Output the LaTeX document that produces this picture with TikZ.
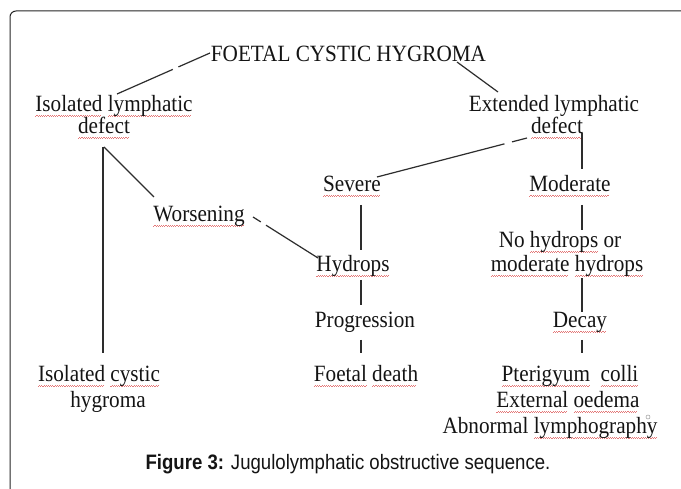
\documentclass[tikz,border=0pt]{standalone}
\usepackage{fontspec}
\setmainfont[FakeStretch=0.91]{Liberation Serif}
\newfontfamily\capfont[FakeStretch=0.89]{Liberation Sans}
\usetikzlibrary{calc}
\definecolor{wavered}{RGB}{228,120,120}
\definecolor{txt}{RGB}{20,20,20}
\definecolor{linec}{RGB}{45,45,45}
\newsavebox\sqbox
\newcommand\sq[1]{\sbox\sqbox{#1}\rlap{\textcolor{wavered}{\leaders\hbox{\rule[-4.4pt]{1.1pt}{0.7pt}\rule[-3.6pt]{1.1pt}{0.7pt}}\hskip\wd\sqbox}}\usebox\sqbox}
\tikzset{
  lbl/.style={anchor=base, inner sep=0pt, text=txt, font=\fontsize{23.3}{25}\selectfont},
  conn/.style={draw=linec, line width=1.2pt},
  frame/.style={draw=black!85, line width=1pt, rounded corners=6pt}
}
\begin{document}
\begin{tikzpicture}[x=1pt, y=-1pt]
\useasboundingbox (0,0) rectangle (681,489);
\clip (0,0) rectangle (681,489);
\fill[white] (0,0) rectangle (681,489);
\draw[frame] (10,500) -- (10,11) -- (700,11);

% nodes
\node[lbl] (foetal) at (348.5,62) {FOETAL CYSTIC HYGROMA};
\node[lbl] (isoA) at (114,112) {\sq{Isolated} \sq{lymphatic}};
\node[lbl] (isoB) at (104,134) {\sq{defect}};
\node[lbl] (extA) at (554,112) {Extended lymphatic};
\node[lbl] (extB) at (557,134) {\sq{defect}};
\node[lbl] (sev) at (352,192) {\sq{Severe}};
\node[lbl] (mod) at (570,192) {\sq{Moderate}};
\node[lbl] (wor) at (199,222) {\sq{Worsening}};
\node[lbl] (hyd) at (353,272) {\sq{Hydrops}};
\node[lbl] (nohA) at (560,248) {No \sq{hydrops} or};
\node[lbl] (nohB) at (567,272) {\sq{moderate} \sq{hydrops}};
\node[lbl] (prog) at (365,328) {Progression};
\node[lbl] (dec) at (580,328) {\sq{Decay}};
\node[lbl] (fd) at (366,382) {\sq{Foetal} \sq{death}};
\node[lbl] (pt) at (570,382) {\sq{Pterigyum}\ \ \sq{colli}};
\node[lbl] (eo) at (568,408) {\sq{External} \sq{oedema}};
\node[lbl] (ab) at (550,434) {Abnormal \sq{lymphography}};
\node[lbl] (icA) at (99,382) {\sq{Isolated} \sq{cystic}};
\node[lbl] (icB) at (108,408) {hygroma};
\node[circle, draw=gray!80, line width=0.5pt, inner sep=0pt, minimum size=4pt] (mk) at (648,417) {};
\node[anchor=base, inner sep=0pt, text=txt, font=\capfont\fontsize{20.9}{22}\selectfont] (cap) at (348,469)
  {\textbf{Figure 3:} Jugulolymphatic obstructive sequence.};

% connector end points
\coordinate (a1) at ($(isoA.base)+(3,-18)$);
\coordinate (b1) at ($(foetal.base)+(-138.5,-9)$);
\coordinate (a2) at ($(foetal.base)+(108.5,0)$);
\coordinate (b2) at ($(extA.base)+(-56,-20)$);
\coordinate (a3) at ($(extB.base)+(-30,4)$);
\coordinate (b3) at ($(sev.base)+(25,-15)$);
\coordinate (a4) at ($(extB.base)+(25,-1)$);
\coordinate (b4) at ($(mod.base)+(12,-23)$);
\coordinate (a5) at ($(isoB.base)+(0,13)$);
\coordinate (b5) at ($(wor.base)+(-45,-25)$);
\coordinate (a6) at ($(isoB.base)+(-1,13)$);
\coordinate (b6) at ($(icA.base)+(4,-29)$);
\coordinate (a7) at ($(wor.base)+(54,-5)$);
\coordinate (b7) at ($(hyd.base)+(-35,-14)$);
\coordinate (a8) at ($(sev.base)+(9,13)$);
\coordinate (b8) at ($(hyd.base)+(8,-22)$);
\coordinate (a9) at ($(hyd.base)+(8,8)$);
\coordinate (b9) at ($(prog.base)+(-4,-23)$);
\coordinate (a10) at ($(prog.base)+(-4,12)$);
\coordinate (b10) at ($(fd.base)+(-5,-29)$);
\coordinate (a11) at ($(mod.base)+(12,13)$);
\coordinate (b11) at ($(nohA.base)+(22,-18)$);
\coordinate (a12) at ($(nohB.base)+(15,6)$);
\coordinate (b12) at ($(dec.base)+(2,-16)$);
\coordinate (a13) at ($(dec.base)+(2,12)$);
\coordinate (b13) at ($(pt.base)+(12,-29)$);

% connectors
\draw[conn] (a1) -- ($(a1)!0.6!(b1)$);
\draw[conn] ($(a1)!0.66!(b1)$) -- (b1);
\draw[conn] (a2) -- (b2);
\draw[conn] (a3) -- ($(a3)!0.1!(b3)$);
\draw[conn] ($(a3)!0.15!(b3)$) -- (b3);
\draw[conn] (a4) -- (b4);
\draw[conn] (a5) -- (b5);
\draw[conn] (a6) -- (b6);
\draw[conn] (a7) -- ($(a7)!0.12!(b7)$);
\draw[conn] ($(a7)!0.2!(b7)$) -- (b7);
\draw[conn] (a8) -- (b8);
\draw[conn] (a9) -- (b9);
\draw[conn] (a10) -- (b10);
\draw[conn] (a11) -- (b11);
\draw[conn] (a12) -- (b12);
\draw[conn] (a13) -- (b13);
\end{tikzpicture}
\end{document}
